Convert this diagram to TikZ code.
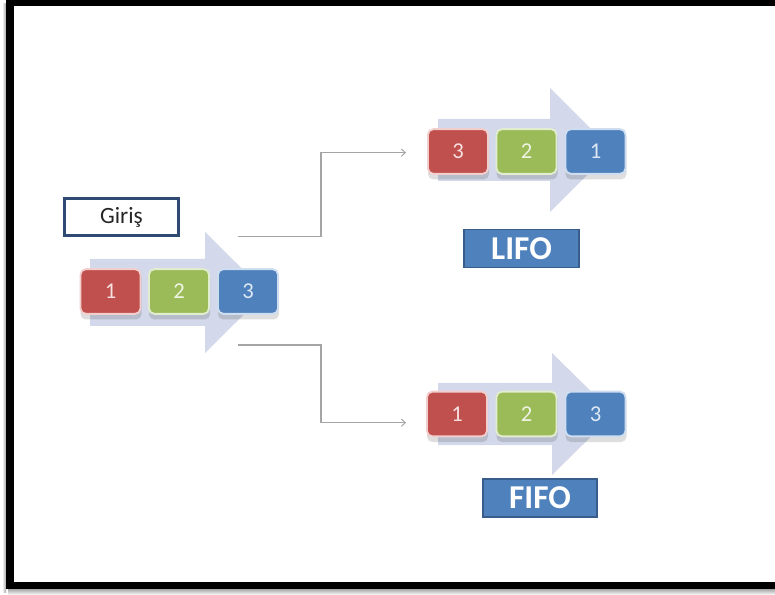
\documentclass[tikz,border=0pt]{standalone}
\usepackage{fontspec}
\setmainfont{Carlito}
\usetikzlibrary{arrows.meta,calc}

\definecolor{ored}{RGB}{192,80,77}
\definecolor{ogreen}{RGB}{155,187,89}
\definecolor{oblue}{RGB}{79,129,189}
\definecolor{oblueedge}{RGB}{56,93,138}
\definecolor{redtint}{RGB}{242,206,205}
\definecolor{greentint}{RGB}{226,236,206}
\definecolor{bluetint}{RGB}{206,222,240}
\definecolor{redtext}{RGB}{246,224,223}
\definecolor{greentext}{RGB}{238,243,226}
\definecolor{bluetext}{RGB}{222,232,244}
\definecolor{chevron}{RGB}{211,216,234}
\definecolor{linkgray}{RGB}{165,165,165}
\definecolor{girisedge}{RGB}{47,75,115}

\tikzset{
  item/.style={minimum width=45pt, minimum height=33.5pt, rounded corners=4pt,
    line width=1.4pt, inner sep=0pt, font=\fontsize{17}{17}\selectfont},
  redbox/.style={item, fill=ored, draw=redtint, text=redtext},
  greenbox/.style={item, fill=ogreen, draw=greentint, text=greentext},
  bluebox/.style={item, fill=oblue, draw=bluetint, text=bluetext},
  boxshadow/.style={fill=black, opacity=0.13, rounded corners=4pt},
  tagbox/.style={fill=oblue, draw=oblueedge, line width=1.3pt, inner sep=0pt,
    minimum width=86pt, minimum height=28.5pt, text=white,
    font=\fontsize{25}{25}\selectfont\bfseries},
  girisbox/.style={fill=white, draw=girisedge, line width=2.2pt, inner sep=0pt,
    minimum width=86pt, minimum height=28pt, text=black!85,
    font=\fontsize{17.5}{17.5}\selectfont},
  link/.style={draw=linkgray, line width=0.8pt,
    -{Straight Barb[length=3pt,width=5.5pt,line width=0.7pt]}},
  blockarrow/.style={fill=chevron, draw=none}
}

\begin{document}
\begin{tikzpicture}[x=0.75pt, y=-0.75pt]
  \useasboundingbox (0,0) rectangle (775,595);
  \fill[white] (0,0) rectangle (775,595);

  % frame and its shadow
  \shade[top color=black!35, bottom color=white] (8,589) rectangle (775,595);
  \shade[left color=white, right color=black!35] (2,4) rectangle (6,592);
  \fill[black] (6,0) rectangle (14,589);
  \fill[black] (6,0) rectangle (775,6);
  \fill[black] (6,582) rectangle (775,589);

  % wide block arrows behind the item rows
  \fill[blockarrow] (90,259) -- (205,259) -- (205,232) -- (266,292.5)
    -- (205,353) -- (205,326) -- (90,326) -- cycle;
  \fill[blockarrow] (438,119) -- (550,119) -- (550,88) -- (612,150)
    -- (550,212) -- (550,181) -- (438,181) -- cycle;
  \fill[blockarrow] (438,383) -- (552,383) -- (552,353) -- (614,414)
    -- (552,475) -- (552,445) -- (438,445) -- cycle;

  % soft shadows under the items
  \foreach \cx/\cy in {110.5/291.5, 179/291.5, 248/291.5,
                       458/151.5, 526.5/151.5, 595.5/151.5,
                       457/414, 526.5/414, 595.5/414}{
    \fill[boxshadow] (\cx-30,\cy-20) rectangle (\cx+31,\cy+28);
  }

  % input row
  \node[girisbox] (giris) at (121.5,217) {Giriş};
  \node[redbox]   (in1) at (110.5,291.5) {1};
  \node[greenbox] (in2) at (179,291.5) {2};
  \node[bluebox]  (in3) at (248,291.5) {3};

  % LIFO row
  \node[redbox]   (l3) at (458,151.5) {3};
  \node[greenbox] (l2) at (526.5,151.5) {2};
  \node[bluebox]  (l1) at (595.5,151.5) {1};
  \node[tagbox]   (lifo) at (521.5,248.5) {LIFO};

  % FIFO row
  \node[redbox]   (f1) at (457,414) {1};
  \node[greenbox] (f2) at (526.5,414) {2};
  \node[bluebox]  (f3) at (595.5,414) {3};
  \node[tagbox]   (fifo) at (540,498) {FIFO};

  % elbow connectors
  \coordinate (upstart) at (238,236.7);
  \coordinate (upend)   at (406,152.7);
  \coordinate (downstart) at (238,345);
  \coordinate (downend)   at (406,422.7);
  \draw[link] (upstart) -- ++(83,0) |- (upend);
  \draw[link] (downstart) -- ++(83,0) |- (downend);
\end{tikzpicture}
\end{document}
